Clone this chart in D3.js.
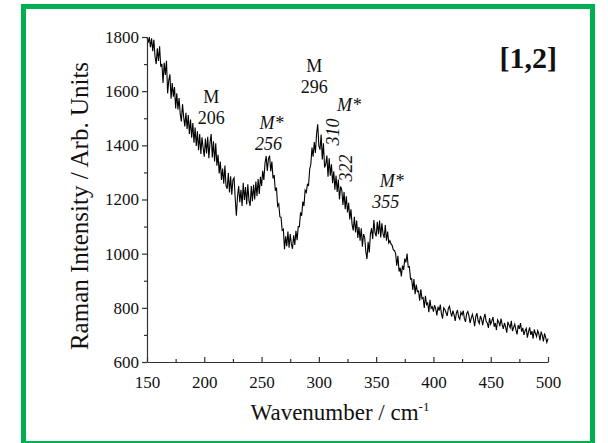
<!DOCTYPE html>
<html>
<head>
<meta charset="utf-8">
<script src="https://cdn.jsdelivr.net/npm/d3@7"></script>
<style>
  html, body { margin: 0; padding: 0; background: #fff; }
  svg { display: block; }
  text { font-family: "Liberation Serif", "Times New Roman", serif; fill: #111; }
</style>
</head>
<body>
<svg id="chart" width="608" height="443"></svg>
<script>
// Raman spectrum sampled every 1 cm-1 from 150 to 500 cm-1
const wavenumberStart = 150;
const wavenumberStep = 1;
const intensity = [
  1800, 1778, 1800, 1762, 1795, 1748, 1790, 1728, 1700, 1758, // 150
  1712, 1766, 1690, 1700, 1630, 1705, 1660, 1712, 1592, 1640, // 160
  1662, 1572, 1630, 1580, 1615, 1536, 1592, 1532, 1575, 1516, // 170
  1488, 1552, 1505, 1470, 1520, 1460, 1512, 1442, 1495, 1428, // 180
  1482, 1410, 1466, 1398, 1452, 1382, 1442, 1368, 1430, 1390, // 190
  1358, 1425, 1370, 1432, 1352, 1410, 1442, 1355, 1415, 1340, // 200
  1408, 1325, 1365, 1296, 1340, 1272, 1314, 1258, 1325, 1250, // 210
  1240, 1298, 1226, 1286, 1218, 1272, 1280, 1204, 1140, 1210, // 220
  1250, 1190, 1236, 1176, 1262, 1198, 1246, 1182, 1256, 1196, // 230
  1176, 1250, 1194, 1254, 1200, 1266, 1212, 1276, 1220, 1284, // 240
  1250, 1306, 1272, 1334, 1360, 1305, 1350, 1362, 1304, 1340, // 250
  1278, 1290, 1232, 1244, 1176, 1184, 1136, 1134, 1086, 1090, // 260
  1016, 1064, 1028, 1082, 1022, 1072, 1036, 1018, 1068, 1032, // 270
  1084, 1050, 1100, 1100, 1152, 1140, 1192, 1176, 1234, 1226, // 280
  1256, 1252, 1312, 1330, 1392, 1358, 1412, 1372, 1442, 1478, // 290
  1398, 1384, 1440, 1348, 1408, 1318, 1330, 1362, 1284, 1352, // 300
  1288, 1330, 1260, 1304, 1236, 1288, 1228, 1274, 1200, 1248, // 310
  1236, 1180, 1228, 1164, 1212, 1152, 1188, 1126, 1164, 1108, // 320
  1086, 1136, 1078, 1122, 1058, 1098, 1048, 1094, 1026, 1072, // 330
  1060, 1008,  980, 1044, 1004, 1072, 1094, 1054, 1124, 1078, // 340
  1064, 1118, 1072, 1122, 1060, 1112, 1074, 1058, 1106, 1048, // 350
  1082, 1040, 1048, 1036, 1030, 1014, 1012, 1000,  956,  992, // 360
   934,  948,  916,  956,  940,  982,  968, 1000,  950,  952, // 370
   906,  908,  866,  906,  850,  886,  860,  862,  826,  868, // 380
   834,  838,  800,  844,  812,  818,  784,  830,  798,  804, // 390
   786,  810,  796,  772,  804,  790,  812,  778,  760,  800, // 400
   794,  782,  770,  798,  806,  784,  768,  790,  774,  752, // 410
   780,  792,  766,  758,  784,  774,  790,  760,  748,  778, // 420
   786,  770,  744,  762,  776,  758,  732,  768,  780,  752, // 430
   742,  770,  758,  736,  762,  778,  750,  744,  726,  762, // 440
   740,  752,  766,  730,  744,  718,  756,  748,  732,  760, // 450
   738,  722,  744,  730,  708,  748,  736,  726,  752,  714, // 460
   728,  740,  718,  702,  736,  722,  744,  712,  726,  700, // 470
   716,  724,  690,  712,  728,  700,  714,  686,  720,  706, // 480
   694,  716,  704,  680,  712,  698,  676,  706,  690,  672, // 490
   686                                                        // 500
];

// Axis ticks
const xTicks = [150, 200, 250, 300, 350, 400, 450, 500];
const xMinorTicks = [175, 225, 275, 325, 375, 425, 475];
const yTicks = [600, 800, 1000, 1200, 1400, 1600, 1800];
const yMinorTicks = [700, 900, 1100, 1300, 1500, 1700];

// Band assignments, two-line labels
const bandLabels = [
  { top: "M",  bottom: "206", italic: false },
  { top: "M*", bottom: "256", italic: true },
  { top: "M",  bottom: "296", italic: false },
  { top: "M*", bottom: "355", italic: true }
];
const rotatedBands = ["310", "322"];

const svg = d3.select("#chart");

// Green frame
svg.append("rect")
  .attr("x", 23.5).attr("y", 6.5)
  .attr("width", 569).attr("height", 437)
  .attr("fill", "none")
  .attr("stroke", "#00b050")
  .attr("stroke-width", 5);

const x = d3.scaleLinear().domain([150, 500]).range([147, 548]);
const y = d3.scaleLinear().domain([600, 1800]).range([362, 37]);

const data = intensity.map((v, i) => ({ w: wavenumberStart + i * wavenumberStep, v }));

// Spectrum trace
svg.append("path")
  .datum(data)
  .attr("fill", "none")
  .attr("stroke", "#000")
  .attr("stroke-width", 1.1)
  .attr("stroke-linejoin", "miter")
  .attr("d", d3.line().x(d => x(d.w)).y(d => y(d.v)));

const fmt = d3.format("d");

// Bottom axis: ticks point into the plot
svg.append("g").attr("transform", "translate(0,362)")
  .call(d3.axisBottom(x).tickValues(xTicks).tickFormat(fmt).tickSizeInner(-5).tickSizeOuter(0).tickPadding(14));
svg.append("g").attr("transform", "translate(0,362)")
  .call(d3.axisBottom(x).tickValues(xMinorTicks).tickSizeInner(-3).tickSizeOuter(0).tickFormat(""))
  .select(".domain").remove();

// Left axis: ticks point outward
svg.append("g").attr("transform", "translate(147,0)")
  .call(d3.axisLeft(y).tickValues(yTicks).tickFormat(fmt).tickSizeInner(5).tickSizeOuter(0).tickPadding(3));
svg.append("g").attr("transform", "translate(147,0)")
  .call(d3.axisLeft(y).tickValues(yMinorTicks).tickSizeInner(3).tickSizeOuter(0).tickFormat(""))
  .select(".domain").remove();

svg.selectAll(".domain, .tick line").attr("stroke", "#333").attr("stroke-width", 1.2);
svg.selectAll(".tick text")
  .attr("font-family", "Liberation Serif, serif")
  .attr("font-size", 17)
  .attr("fill", "#111");

// Axis titles
svg.append("text")
  .attr("x", 340).attr("y", 420)
  .attr("text-anchor", "middle")
  .attr("font-size", 23)
  .text("Wavenumber / cm")
  .append("tspan")
  .attr("dy", -9).attr("font-size", 13)
  .text("-1");

svg.append("text")
  .attr("transform", "translate(88,206) rotate(-90)")
  .attr("text-anchor", "middle")
  .attr("font-size", 25)
  .text("Raman Intensity / Arb. Units");

// Reference tag
svg.append("text")
  .attr("x", 557).attr("y", 68)
  .attr("text-anchor", "end")
  .attr("font-size", 30)
  .attr("font-weight", "bold")
  .text("[1,2]");

// Band annotations placed above their bands
const bandPos = [
  { w: 206, v: 1480, dxTop: 0, dxBottom: 0 },
  { w: 256, v: 1383, dxTop: 3, dxBottom: 0 },
  { w: 296, v: 1595, dxTop: 0, dxBottom: 0 },
  { w: 355, v: 1170, dxTop: 10, dxBottom: 4 }
];
bandLabels.forEach((b, i) => {
  const p = bandPos[i];
  const px = x(p.w);
  const py = y(p.v);
  const g = svg.append("g").attr("font-size", 18)
    .attr("font-style", b.italic ? "italic" : "normal");
  g.append("text").attr("x", px + p.dxTop).attr("y", py - 21).attr("text-anchor", "middle").text(b.top);
  g.append("text").attr("x", px + p.dxBottom).attr("y", py).attr("text-anchor", "middle").text(b.bottom);
});

// Second M* label over the 310 / 322 shoulder
svg.append("text")
  .attr("x", 349).attr("y", 111)
  .attr("text-anchor", "middle")
  .attr("font-size", 18).attr("font-style", "italic")
  .text("M*");

const rotPos = [ { px: 339, py: 132 }, { px: 352, py: 168 } ];
rotatedBands.forEach((t, i) => {
  svg.append("text")
    .attr("transform", `translate(${rotPos[i].px},${rotPos[i].py}) rotate(-90)`)
    .attr("text-anchor", "middle")
    .attr("font-size", 18).attr("font-style", "italic")
    .text(t);
});
</script>
</body>
</html>
